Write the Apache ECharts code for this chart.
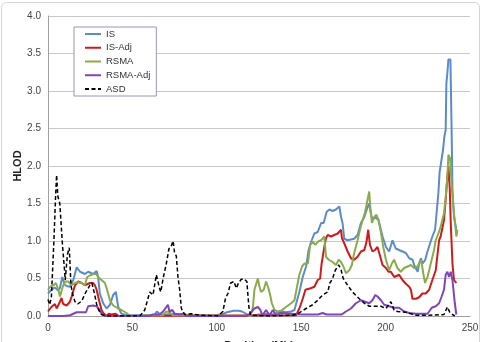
<!DOCTYPE html>
<html>
<head>
<meta charset="utf-8">
<script src="https://cdn.jsdelivr.net/npm/echarts@6/dist/echarts.min.js"></script>
<style>
  html, body { margin: 0; padding: 0; background: #fff; }
  #main { width: 482px; height: 342px; }
</style>
</head>
<body>
<div id="main"></div>
<script>
// values: [position (Mb), HLOD]
var seriesNames = ['IS', 'IS-Adj', 'RSMA', 'RSMA-Adj', 'ASD'];
var xTicks = [0, 50, 100, 150, 200, 250];
var yTicks = [0, 0.5, 1, 1.5, 2, 2.5, 3, 3.5, 4];

var isData = [[0,0.3],[2,0.35],[4,0.38],[6,0.34],[7,0.37],[8.1,0.48],[8.5,0.52],[9.8,0.42],[11,0.4],[13,0.39],[15,0.48],[17,0.65],[19,0.59],[21.9,0.56],[23.8,0.59],[26.8,0.56],[28.8,0.6],[29.7,0.52],[30.7,0.3],[32.7,0.17],[34.7,0.1],[36.7,0.15],[38.6,0.28],[40.2,0.32],[41.6,0.12],[43.5,0.03],[46.5,0.01],[55,0.01],[63,0.01],[64.5,0.06],[65.2,0.08],[66.5,0.02],[70,0.02],[75,0.03],[85,0.01],[100,0.01],[104,0.03],[106,0.05],[110,0.07],[113,0.07],[115,0.06],[118,0.02],[120,0],[125,0.02],[130,0.03],[134,0.02],[136,0.05],[139,0.06],[141,0.05],[144,0.06],[146,0.08],[147,0.1],[148.9,0.32],[150.9,0.52],[152.9,0.66],[154.4,0.88],[155.9,0.99],[157.8,1.1],[159.8,1.12],[161.8,1.24],[163.3,1.24],[165.1,1.39],[166.7,1.42],[168.6,1.4],[170.6,1.42],[172.6,1.46],[173.6,1.32],[174.5,1.24],[175.5,1.03],[177.5,1.01],[181.4,1.03],[183.4,1.08],[185.4,1.24],[187.4,1.32],[189.3,1.45],[190.3,1.5],[191.3,1.36],[192.2,1.28],[193.7,1.32],[195.8,1.28],[198.2,1.06],[200.2,0.92],[202.1,0.86],[204.1,1.01],[206,0.9],[208,0.88],[210,0.86],[212,0.84],[214,0.77],[216,0.75],[216.9,0.68],[218,0.66],[219,0.59],[219.9,0.7],[220.9,0.77],[222,0.7],[223.5,0.75],[224.8,0.86],[226.1,0.95],[227.7,1.06],[229.3,1.15],[230,1.32],[231.3,1.65],[232,1.92],[233,1.92],[234,2.21],[234.8,2.39],[235.6,2.48],[236,3.1],[236.6,3.24],[237.2,3.42],[238.4,3.42],[238.6,3.15],[239.2,2.35],[239.6,1.7],[240.5,1.32],[241,1.3],[241.9,1.15]];

var isAdjData = [[0,0.06],[2,0.12],[4.1,0.16],[5.1,0.1],[7.1,0.19],[8,0.24],[9,0.16],[11,0.14],[13,0.19],[14,0.26],[16,0.41],[17.9,0.46],[19.9,0.44],[21.9,0.41],[24.8,0.44],[26.8,0.44],[27.8,0.41],[28.8,0.35],[29.7,0.26],[30.7,0.17],[31.7,0.08],[32.7,0.04],[34.7,0],[36,0.03],[37.6,0.02],[40,0.03],[42,0],[147,0.01],[148.9,0.1],[150.3,0.19],[150.9,0.23],[152.5,0.35],[153.6,0.37],[155.6,0.37],[157.8,0.39],[159.8,0.48],[161.2,0.5],[162.1,0.7],[163.7,0.92],[164.7,1.04],[165.7,1.08],[167.7,1.06],[169.6,1.08],[171.6,1.1],[173.6,1.15],[174.1,1.04],[175.5,0.97],[177.5,0.86],[179.5,0.77],[181.4,0.75],[183.4,0.79],[185.4,0.86],[187.4,0.88],[188.7,0.99],[189.7,1.15],[190.7,0.95],[192.2,0.86],[193.7,0.88],[195.2,0.92],[196.6,0.81],[198.2,0.68],[200.2,0.64],[201.7,0.59],[203.1,0.59],[205.1,0.52],[208,0.55],[210,0.48],[212,0.43],[214,0.39],[215,0.35],[215.9,0.23],[218,0.23],[219.9,0.25],[221.8,0.3],[223.8,0.3],[225.8,0.35],[227.7,0.48],[229.7,0.61],[231.7,1.01],[232.6,1.06],[234.6,1.28],[235.6,1.55],[236.6,1.85],[237.2,2.0],[238,1.7],[238.6,1.24],[239.6,0.7],[240.5,0.48],[241.9,0.44]];

var rsmaData = [[0,0.35],[1.3,0.39],[3.3,0.41],[4.7,0.44],[6.1,0.35],[7.1,0.26],[8.7,0.39],[10,0.46],[12,0.46],[14,0.41],[16,0.44],[17.9,0.45],[19.9,0.44],[21.9,0.41],[23.2,0.52],[24.8,0.54],[26.8,0.56],[28.4,0.56],[29.7,0.52],[31.7,0.48],[33.7,0.44],[35,0.35],[36.7,0.21],[38.6,0.14],[41.6,0.1],[43.5,0.08],[46.5,0.04],[48.5,0],[68,0.01],[70,0.06],[72,0.05],[74,0.01],[120,0],[121.4,0.12],[122.3,0.35],[123.3,0.33],[124.3,0.5],[125.3,0.39],[126.2,0.32],[127.8,0.35],[129.2,0.46],[130.6,0.37],[131.8,0.26],[132.6,0.17],[134.2,0.08],[136,0.06],[138,0.07],[141,0.12],[144,0.17],[146,0.21],[147,0.22],[147.6,0.4],[148.9,0.55],[150.5,0.66],[152,0.7],[154,0.7],[155.3,0.95],[156.8,0.99],[158.4,0.95],[159.8,0.99],[161.8,1.01],[163.7,1.06],[164.7,0.79],[166.3,0.75],[168.6,0.72],[170.6,0.68],[172.2,0.75],[173.6,0.72],[175,0.66],[176.5,0.57],[178.5,0.61],[180,0.68],[181.4,0.84],[183.4,1.01],[184.8,1.15],[186.4,1.28],[187.9,1.39],[189.3,1.55],[190.3,1.66],[190.9,1.46],[191.9,1.24],[193.3,1.32],[194.6,1.35],[195.8,1.28],[197.2,1.12],[198.6,0.92],[200.2,0.75],[202.1,0.61],[203.7,0.7],[205,0.75],[207,0.64],[209,0.59],[211,0.64],[213,0.66],[215,0.68],[216.9,0.64],[219,0.66],[220.9,0.75],[221.4,0.7],[222.3,0.57],[223.4,0.44],[224.8,0.52],[225.8,0.61],[227.3,0.75],[228.7,0.88],[229.7,1.01],[231.3,1.1],[232.6,1.19],[234.6,1.37],[235.6,1.59],[236.6,1.87],[237.2,2.15],[238.2,2.1],[239.2,1.72],[240.5,1.37],[241,1.28],[241.9,1.06],[242.5,1.15]];

var rsmaAdjData = [[0,0],[9,0],[13,0.01],[15,0.03],[17,0.05],[19.9,0.05],[22.5,0.05],[23.8,0.13],[26.8,0.14],[28.8,0.13],[29.7,0.15],[30.7,0.08],[31.7,0.03],[33.7,0],[60,0],[62,0.02],[66,0.02],[68.2,0.06],[70.1,0.12],[71,0.15],[72,0.06],[73.7,0.08],[75,0.03],[78,0.02],[80,0.03],[82,0],[118,0],[120,0.04],[122.3,0.1],[124.3,0.12],[125.8,0.08],[127,0.01],[129.2,0.08],[131.2,0.01],[133.2,0.08],[135,0.01],[138,0.04],[144,0.03],[150,0.02],[160,0.02],[162.7,0.04],[165,0.02],[174,0.02],[176.5,0.06],[179.5,0.1],[182.4,0.17],[185.4,0.21],[187.9,0.19],[190.3,0.17],[192.2,0.21],[193.9,0.28],[195.2,0.26],[197.2,0.21],[199.2,0.15],[202.1,0.13],[205,0.11],[208,0.11],[211,0.06],[214,0.04],[218,0.03],[222,0.03],[224.8,0.03],[225.8,0.06],[227.3,0.11],[229.7,0.13],[231.7,0.17],[233.2,0.26],[234.6,0.35],[235.6,0.55],[236.6,0.59],[237.6,0.52],[238.6,0.59],[239.6,0.48],[240.5,0.46],[241,0.17],[241.9,0.02]];

var asdData = [[0,0.22],[1,0.15],[2,0.25],[2.5,0.5],[3.5,1.0],[4.5,1.6],[5.1,1.88],[5.8,1.6],[6.5,1.62],[7,1.5],[8.5,0.97],[9.8,0.61],[10.2,0.48],[11.5,0.82],[12.6,0.91],[13.6,0.41],[14.5,0.3],[16,0.19],[17.6,0.16],[20,0.2],[22,0.3],[24.8,0.41],[26,0.44],[27.5,0.3],[28.8,0.16],[30,0.08],[31.7,0.02],[34.5,0],[54.4,0],[57.3,0.08],[60.3,0.32],[62.2,0.28],[64.2,0.55],[65.8,0.39],[66.8,0.32],[68.2,0.5],[70.1,0.7],[71.7,0.9],[73,0.93],[74.1,1.0],[75,0.84],[76,0.8],[77,0.52],[78,0.35],[79,0.1],[81,0.02],[85,0.03],[90,0.01],[100.7,0],[103.6,0.06],[105.2,0.24],[106.6,0.3],[108.2,0.44],[110.2,0.46],[111.5,0.37],[112.9,0.44],[114.5,0.49],[116.4,0.49],[117.8,0.46],[119,0.12],[120,0.01],[130,0],[145,0.01],[148,0.03],[150,0.06],[152.9,0.1],[156.8,0.15],[159.8,0.21],[162.7,0.28],[165.7,0.32],[167,0.44],[168.6,0.5],[170.2,0.61],[172.2,0.68],[173.6,0.62],[174.9,0.5],[177.5,0.41],[180.4,0.32],[184.4,0.23],[187.4,0.17],[190.3,0.13],[193.3,0.13],[197.2,0.13],[200.2,0.1],[203.1,0.19],[205,0.08],[207,0.06],[212,0.05],[218,0.01],[226,0.01],[234.6,0.02],[236.6,0.12],[238,0.05],[239.6,0.02],[241,0]];

var colors = ['#5b8cc8', '#d01a1a', '#8aab4c', '#7e45bd', '#000000'];
var allData = [isData, isAdjData, rsmaData, rsmaAdjData, asdData];

var chart = echarts.init(document.getElementById('main'));

var series = seriesNames.map(function (name, i) {
  var dashed = name === 'ASD';
  return {
    name: name,
    type: 'line',
    data: allData[i],
    symbol: 'none',
    color: colors[i],
    lineStyle: { width: dashed ? 1.5 : 2, type: dashed ? [4, 2.5] : 'solid', color: colors[i] },
    animation: false
  };
});

chart.setOption({
  animation: false,
  textStyle: { fontFamily: 'Liberation Sans, Arial, sans-serif' },
  graphic: [{
    type: 'rect',
    shape: { x: 1.5, y: 2.5, width: 478, height: 350, r: 5 },
    style: { fill: 'none', stroke: '#d4d4d4', lineWidth: 1 },
    z: -10
  }],
  grid: { left: 48, right: 12, top: 16, bottom: 26, containLabel: false, outerBoundsMode: 'none' },
  legend: {
    orient: 'vertical',
    left: 74,
    top: 27,
    data: seriesNames,
    itemWidth: 16,
    itemHeight: 10,
    itemGap: 3.75,
    padding: [2, 6, 2, 10],
    backgroundColor: '#fff',
    borderColor: '#9a94c0',
    borderWidth: 1,
    itemStyle: { opacity: 0 },
    textStyle: { fontSize: 9.5, color: '#333', lineHeight: 10 }
  },
  xAxis: {
    type: 'value',
    min: xTicks[0],
    max: xTicks[xTicks.length - 1],
    interval: 50,
    name: 'Position (Mb)',
    nameLocation: 'middle',
    nameGap: 24,
    nameMoveOverlap: false,
    nameTextStyle: { fontSize: 11, fontWeight: 'bold', color: '#222' },
    axisLine: { show: true, lineStyle: { color: '#a0a0a0' } },
    axisTick: { show: false },
    axisLabel: { fontSize: 10, color: '#444', margin: 7 },
    splitLine: { show: false }
  },
  yAxis: {
    type: 'value',
    min: yTicks[0],
    max: yTicks[yTicks.length - 1],
    interval: 0.5,
    name: 'HLOD',
    nameLocation: 'middle',
    nameGap: 25,
    nameMoveOverlap: false,
    nameTextStyle: { fontSize: 11, fontWeight: 'bold', color: '#222' },
    axisLine: { show: true, lineStyle: { color: '#a0a0a0' } },
    axisTick: { show: false },
    axisLabel: { fontSize: 10, color: '#444', margin: 7, formatter: function (v) { return v.toFixed(1); } },
    splitLine: { show: true, lineStyle: { color: '#c9c9c9' } }
  },
  series: series
});
</script>
</body>
</html>
